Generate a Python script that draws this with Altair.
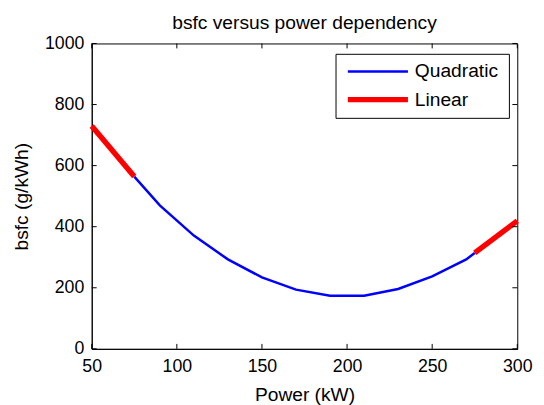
import altair as alt
import pandas as pd

# ---- data ----
quad_power = [75, 90, 110, 130, 150, 170, 190, 210, 230, 250, 270, 275]
quad_bsfc = [564, 470, 371, 293, 234, 194, 174, 174, 196, 237, 293, 314]

lin_power = [50, 75, 275, 300]
lin_bsfc = [730, 564, 314, 419]
lin_seg = ["low", "low", "high", "high"]

x_ticks = [50, 100, 150, 200, 250, 300]
y_ticks = [0, 200, 400, 600, 800, 1000]
legend_labels = ["Quadratic", "Linear"]
legend_colors = ["#0000ff", "#ff0000"]

W, H = 432, 310
FONT = "Liberation Sans"
TS = 19.5

quad = pd.DataFrame({"power": quad_power, "bsfc": quad_bsfc})
lin = pd.DataFrame({"power": lin_power, "bsfc": lin_bsfc, "seg": lin_seg})
xt = pd.DataFrame({"power": x_ticks})
yt = pd.DataFrame({"bsfc": y_ticks})

xscale = alt.Scale(domain=[50, 300], nice=False, zero=False)
yscale = alt.Scale(domain=[0, 1000], nice=False)

common = dict(grid=False, ticks=False, domainColor="black", labelFont=FONT,
              titleFont=FONT, labelFontSize=18, titleFontSize=TS,
              labelColor="black", titleColor="black", titleFontWeight="normal",
              format="d")
xaxis = alt.Axis(values=x_ticks, title="Power (kW)", labelPadding=9,
                 titlePadding=10, labelFlush=False, **common)
yaxis = alt.Axis(values=y_ticks, title="bsfc (g/kWh)", labelPadding=8,
                 titlePadding=13, **common)

blue = alt.Chart(quad).mark_line(color=legend_colors[0], strokeWidth=2.5).encode(
    x=alt.X("power:Q", scale=xscale, axis=xaxis),
    y=alt.Y("bsfc:Q", scale=yscale, axis=yaxis),
)

red = alt.Chart(lin).mark_line(color=legend_colors[1], strokeWidth=5.5).encode(
    x=alt.X("power:Q", scale=xscale),
    y=alt.Y("bsfc:Q", scale=yscale),
    detail="seg:N",
)

tk = 5
xt_bottom = alt.Chart(xt).mark_rule(color="black").encode(
    x=alt.X("power:Q", scale=xscale), y=alt.value(H), y2=alt.value(H - tk))
xt_top = alt.Chart(xt).mark_rule(color="black").encode(
    x=alt.X("power:Q", scale=xscale), y=alt.value(0), y2=alt.value(tk))
yt_left = alt.Chart(yt).mark_rule(color="black").encode(
    y=alt.Y("bsfc:Q", scale=yscale), x=alt.value(0), x2=alt.value(tk))
yt_right = alt.Chart(yt).mark_rule(color="black").encode(
    y=alt.Y("bsfc:Q", scale=yscale), x=alt.value(W), x2=alt.value(W - tk))

# legend (decoration)
one = pd.DataFrame({"k": [0]})
leg_box = alt.Chart(one).mark_rect(fill="white", stroke="black", strokeWidth=1).encode(
    x=alt.value(248), x2=alt.value(424), y=alt.value(11), y2=alt.value(76))
leg_layers = [leg_box]
leg_y = [28.5, 57]
leg_w = [2.5, 5.5]
for lab, col, yy, sw in zip(legend_labels, legend_colors, leg_y, leg_w):
    leg_layers.append(alt.Chart(one).mark_rule(color=col, strokeWidth=sw).encode(
        x=alt.value(260), x2=alt.value(321), y=alt.value(yy)))
    leg_layers.append(alt.Chart(one).mark_text(
        align="left", baseline="middle", font=FONT, fontSize=TS, color="black").encode(
        x=alt.value(328), y=alt.value(yy), text=alt.value(lab)))

chart = alt.layer(blue, red, xt_bottom, xt_top, yt_left, yt_right, *leg_layers).properties(
    width=W, height=H,
    title=alt.TitleParams("bsfc versus power dependency", font=FONT, fontSize=TS,
                          fontWeight="normal", color="black", offset=5, dy=4),
    autosize=alt.AutoSizeParams(type="none"),
    padding={"left": 85, "top": 33, "right": 19, "bottom": 54},
    background="white",
).configure_view(stroke="black", strokeWidth=1)

chart.save("out.html", embed_options={"renderer": "svg", "actions": False})
